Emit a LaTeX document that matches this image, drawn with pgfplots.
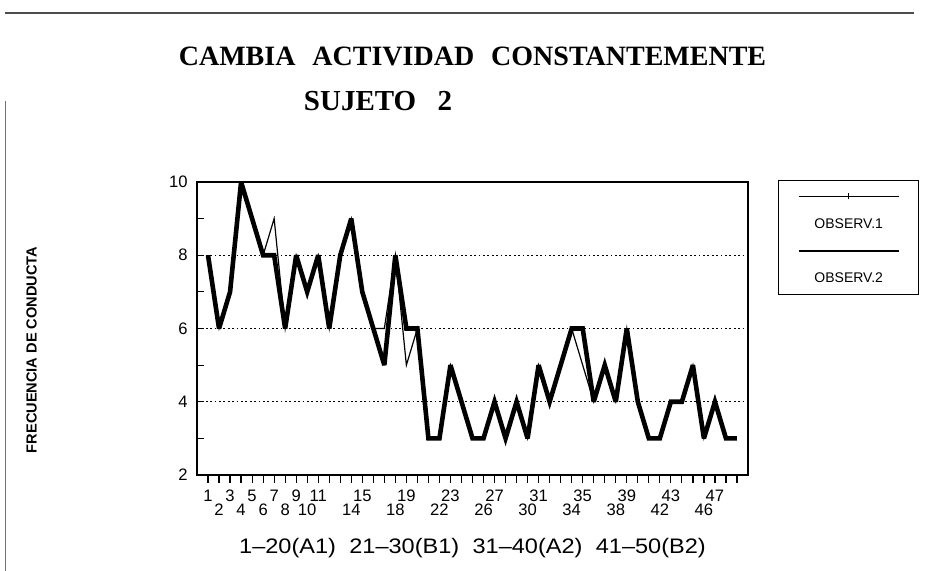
\documentclass[border=0pt]{standalone}
\usepackage{fontspec}
\setmainfont{Liberation Sans}
\newfontfamily\serifb{Liberation Serif}
\usepackage{graphicx}
\usepackage{pgfplots}
\pgfplotsset{compat=1.18}

\begin{document}
\begin{tikzpicture}[x=1pt,y=1pt]
\useasboundingbox (0,0) rectangle (473,285.5);
\draw[line width=1pt, black!70] (2.5,279) -- (457,279);
\draw[line width=0.4pt, black!55] (2.5,235) -- (2.5,0);
\begin{axis}[
  at={(98.5pt,48pt)}, anchor=south west,
  scale only axis, width=275.5pt, height=146.5pt,
  xmin=0, xmax=50, ymin=2, ymax=10,
  axis line style={line width=0.8pt},
  tick align=outside, major tick length=4pt,
  xtick pos=left, ytick pos=left,
  tick style={black, line width=0.6pt},
  xtick={1,3,...,49},
  xticklabels={1,3,5,7,9,11,,15,,19,,23,,27,,31,,35,,39,,43,,47,},
  x tick label style={yshift=-3.5pt},
  extra x ticks={2,4,...,48},
  extra x tick labels={2,4,6,8,10,,14,,18,,22,,26,,30,,34,,38,,42,,46,},
  extra x tick style={tick label style={yshift=-7pt}},
  ytick={2,...,10}, yticklabels={2,,4,,6,,8,,10},
  ytick style={xshift=3.5pt},
  y tick label style={xshift=-0.5pt},
  extra y ticks={4,6,8}, extra y tick labels={},
  extra y tick style={grid=major},
  major grid style={black, line width=0.7pt, dash pattern=on 0.9pt off 1.3pt},
  tick label style={font=\fontsize{8.3}{9.5}\selectfont, inner sep=0pt},
  /pgf/number format/assume math mode=true,
  title={\serifb\bfseries\fontsize{14}{16}\selectfont CAMBIA\hspace{5pt} ACTIVIDAD\hspace{5pt} CONSTANTEMENTE},
  title style={at={(0.5,1.386)}, anchor=center},
  xlabel={\fontsize{10.5}{12}\selectfont\scalebox{1.12}[1]{1--20(A1)\hspace{6pt}21--30(B1)\hspace{6pt}31--40(A2)\hspace{6pt}41--50(B2)}},
  xlabel style={at={(0.5,-0.249)}, anchor=center},
  ylabel={\bfseries\fontsize{7.3}{9}\selectfont FRECUENCIA DE CONDUCTA},
  ylabel style={at={(-0.30,0.427)}, anchor=center},
  extra description/.code={
    \node[anchor=center] at (0.3285,1.276) {\serifb\bfseries\fontsize{14.5}{16}\selectfont SUJETO\hspace{7pt} 2};
  },
  legend style={at={(1.0544,1.0068)}, anchor=north west, draw=black, line width=0.7pt,
    inner xsep=8pt, inner ysep=2.5pt, row sep=2.5pt,
    font=\fontsize{7}{8}\selectfont, cells={anchor=center}},
]
\addplot[black, line width=0.6pt, forget plot] coordinates {
(1,8) (2,6) (3,7) (4,10) (5,9) (6,8) (7,9) (8,6) (9,8) (10,7)
(11,8) (12,6) (13,8) (14,9) (15,7) (16,6) (17,6) (18,8) (19,5) (20,6)
(21,3) (22,3) (23,5) (24,4) (25,3) (26,3) (27,4) (28,3) (29,4) (30,3)
(31,5) (32,4) (33,5) (34,6) (35,5) (36,4) (37,5) (38,4) (39,6) (40,4)
(41,3) (42,3) (43,4) (44,4) (45,5) (46,3) (47,4) (48,3) (49,3)};
\addplot[black, line width=2.3pt, line join=miter, miter limit=4, forget plot] coordinates {
(1,8) (2,6) (3,7) (4,10) (5,9) (6,8) (7,8) (8,6) (9,8) (10,7)
(11,8) (12,6) (13,8) (14,9) (15,7) (16,6) (17,5) (18,8) (19,6) (20,6)
(21,3) (22,3) (23,5) (24,4) (25,3) (26,3) (27,4) (28,3) (29,4) (30,3)
(31,5) (32,4) (33,5) (34,6) (35,6) (36,4) (37,5) (38,4) (39,6) (40,4)
(41,3) (42,3) (43,4) (44,4) (45,5) (46,3) (47,4) (48,3) (49,3)};
\addlegendimage{empty legend}
\addlegendentry{\strut\rule[2pt]{24.6pt}{0.7pt}\rule[0.8pt]{0.8pt}{3pt}\rule[2pt]{24.6pt}{0.7pt}}
\addlegendimage{empty legend}
\addlegendentry{\strut OBSERV.1}
\addlegendimage{empty legend}
\addlegendentry{\strut\rule[1.8pt]{50pt}{1.1pt}}
\addlegendimage{empty legend}
\addlegendentry{\strut OBSERV.2}
\end{axis}
\end{tikzpicture}
\end{document}
